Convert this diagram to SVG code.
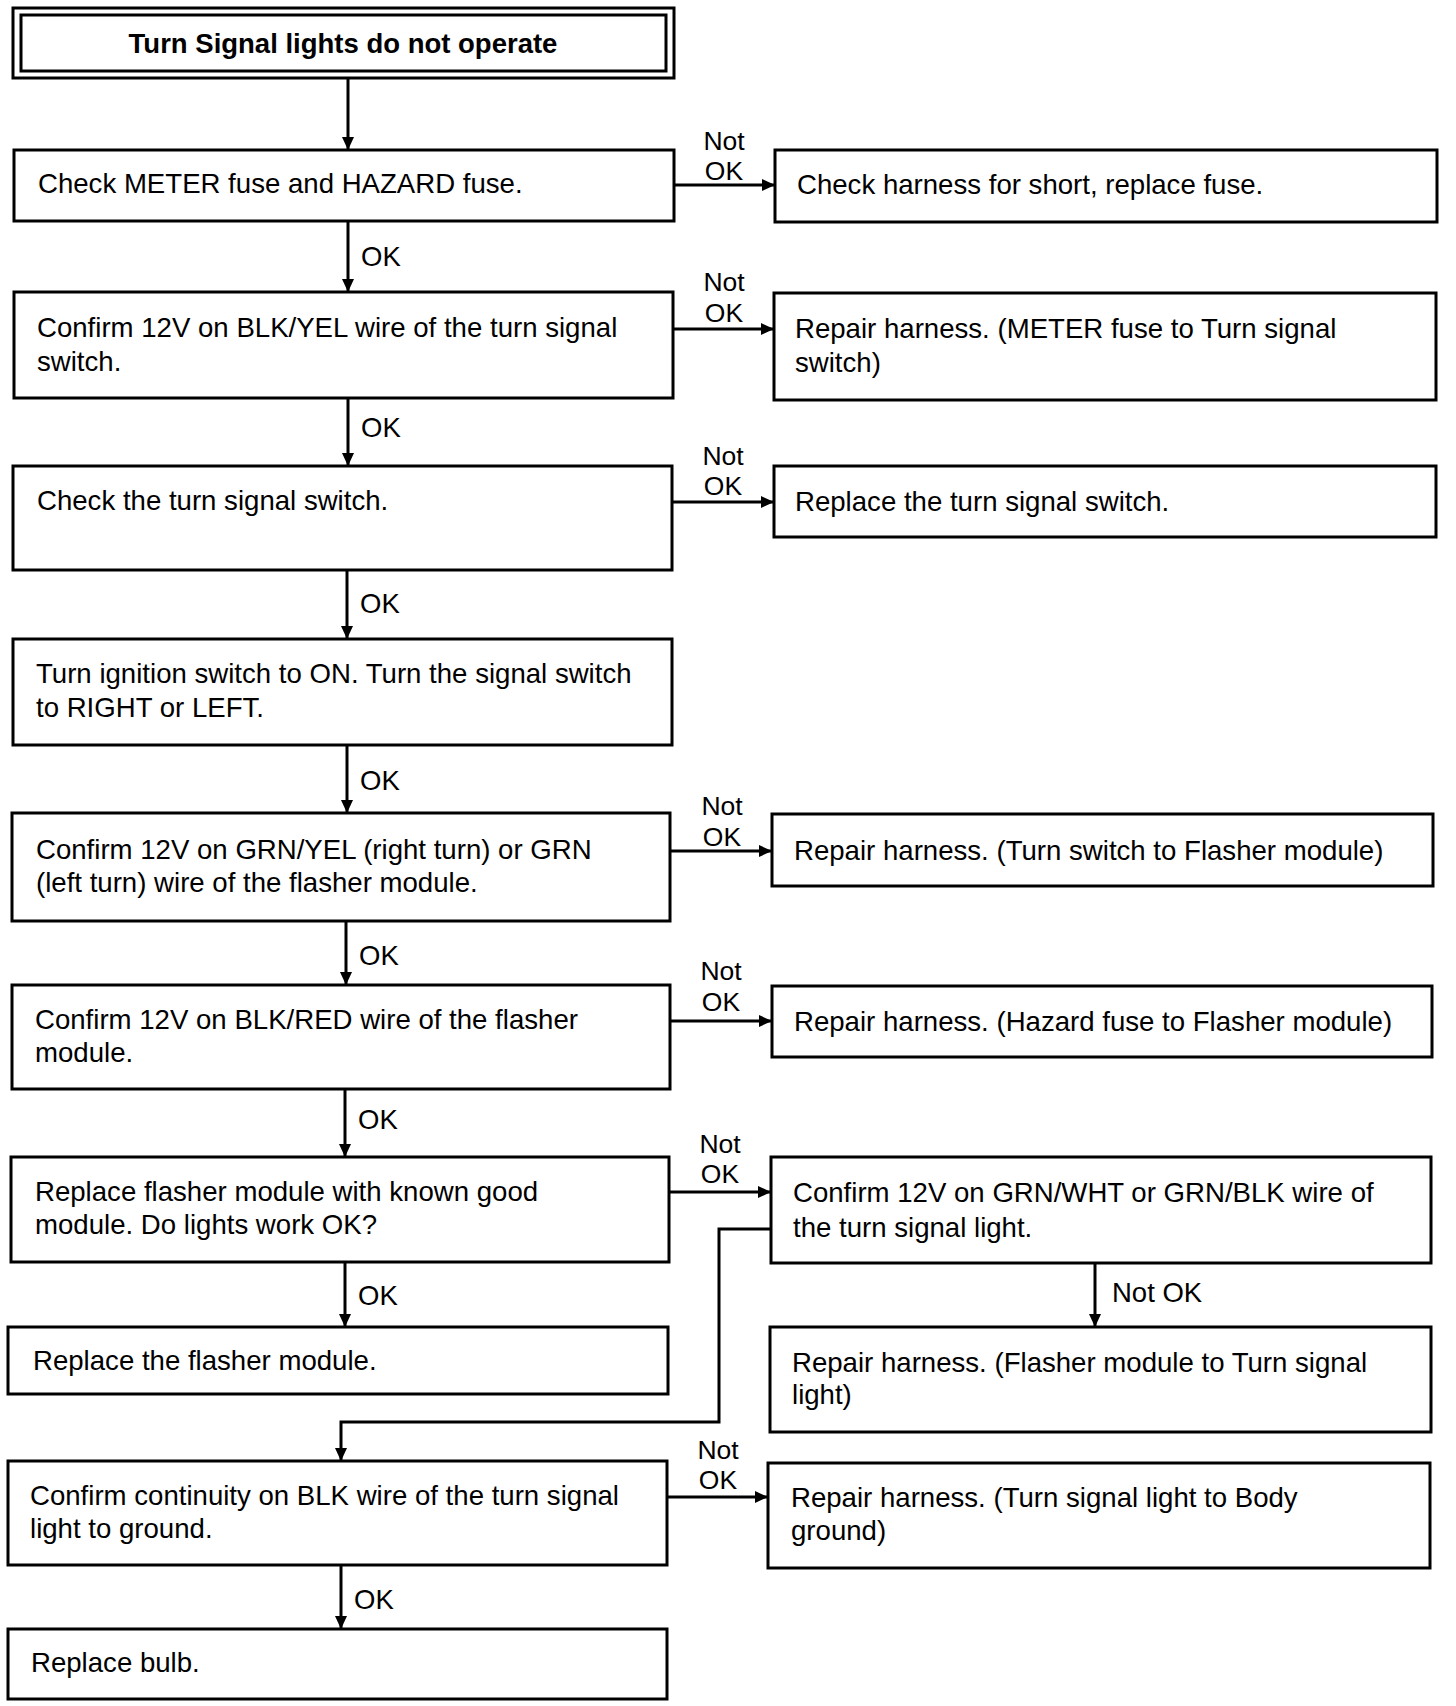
<svg xmlns="http://www.w3.org/2000/svg" width="1456" height="1706" viewBox="0 0 1456 1706">
<style>
.box{fill:#fff;stroke:#000;stroke-width:3}
.t{font-family:"Liberation Sans",Arial,sans-serif;font-size:27.6px;fill:#000}
.tb{font-family:"Liberation Sans",Arial,sans-serif;font-size:27.5px;font-weight:bold;fill:#000}
.c{fill:none;stroke:#000;stroke-width:3}
.lbl{font-family:"Liberation Sans",Arial,sans-serif;font-size:27.5px;fill:#000}
.nl{font-family:"Liberation Sans",Arial,sans-serif;font-size:26.5px;fill:#000;text-anchor:middle}
</style>
<defs>
<marker id="ah" markerUnits="userSpaceOnUse" markerWidth="13" markerHeight="12" refX="13" refY="6" orient="auto">
<path d="M0,0 L13,6 L0,12 z" fill="#000"/>
</marker>
</defs>
<rect width="1456" height="1706" fill="#fff"/>

<g id="connectors">
<line class="c" x1="348" y1="78" x2="348" y2="150" marker-end="url(#ah)"/>
<line class="c" x1="674" y1="185" x2="775" y2="185" marker-end="url(#ah)"/>
<line class="c" x1="348" y1="221" x2="348" y2="292" marker-end="url(#ah)"/>
<line class="c" x1="673" y1="329" x2="774" y2="329" marker-end="url(#ah)"/>
<line class="c" x1="348" y1="398" x2="348" y2="466" marker-end="url(#ah)"/>
<line class="c" x1="672" y1="502" x2="774" y2="502" marker-end="url(#ah)"/>
<line class="c" x1="347" y1="570" x2="347" y2="639" marker-end="url(#ah)"/>
<line class="c" x1="347" y1="745" x2="347" y2="813" marker-end="url(#ah)"/>
<line class="c" x1="670" y1="851" x2="772" y2="851" marker-end="url(#ah)"/>
<line class="c" x1="346" y1="921" x2="346" y2="985" marker-end="url(#ah)"/>
<line class="c" x1="670" y1="1021" x2="772" y2="1021" marker-end="url(#ah)"/>
<line class="c" x1="345" y1="1089" x2="345" y2="1157" marker-end="url(#ah)"/>
<line class="c" x1="669" y1="1192" x2="771" y2="1192" marker-end="url(#ah)"/>
<line class="c" x1="345" y1="1262" x2="345" y2="1327" marker-end="url(#ah)"/>
<line class="c" x1="1095" y1="1263" x2="1095" y2="1327" marker-end="url(#ah)"/>
<polyline class="c" points="771,1229 719,1229 719,1422 341,1422 341,1461" marker-end="url(#ah)"/>
<line class="c" x1="667" y1="1497" x2="768" y2="1497" marker-end="url(#ah)"/>
<line class="c" x1="341" y1="1565" x2="341" y2="1629" marker-end="url(#ah)"/>
<text class="lbl" x="361" y="266">OK</text>
<text class="lbl" x="361" y="437">OK</text>
<text class="lbl" x="360" y="613">OK</text>
<text class="lbl" x="360" y="790">OK</text>
<text class="lbl" x="359" y="965">OK</text>
<text class="lbl" x="358" y="1129">OK</text>
<text class="lbl" x="358" y="1305">OK</text>
<text class="lbl" x="354" y="1609">OK</text>
<text class="lbl" x="1112" y="1302">Not OK</text>
<text class="nl" x="724" y="150">Not</text>
<text class="nl" x="724" y="180">OK</text>
<text class="nl" x="724" y="291">Not</text>
<text class="nl" x="724" y="322">OK</text>
<text class="nl" x="723" y="465">Not</text>
<text class="nl" x="723" y="495">OK</text>
<text class="nl" x="722" y="815">Not</text>
<text class="nl" x="722" y="846">OK</text>
<text class="nl" x="721" y="980">Not</text>
<text class="nl" x="721" y="1011">OK</text>
<text class="nl" x="720" y="1153">Not</text>
<text class="nl" x="720" y="1183">OK</text>
<text class="nl" x="718" y="1459">Not</text>
<text class="nl" x="718" y="1489">OK</text>
</g>

<g id="n0">
<rect class="box" x="13" y="8" width="661" height="70"/>
<rect class="box" x="21" y="15" width="645" height="56"/>
<text class="tb" text-anchor="middle" x="343" y="53">Turn Signal lights do not operate</text>
</g>
<g id="n1">
<rect class="box" x="14" y="150" width="660" height="71"/>
<text class="t" x="38" y="193">Check METER fuse and HAZARD fuse.</text>
</g>
<g id="n1r">
<rect class="box" x="775" y="150" width="662" height="72"/>
<text class="t" x="797" y="194">Check harness for short, replace fuse.</text>
</g>
<g id="n2">
<rect class="box" x="14" y="292" width="659" height="106"/>
<text class="t" x="37" y="337">Confirm 12V on BLK/YEL wire of the turn signal</text>
<text class="t" x="37" y="371">switch.</text>
</g>
<g id="n2r">
<rect class="box" x="774" y="293" width="662" height="107"/>
<text class="t" x="795" y="338">Repair harness. (METER fuse to Turn signal</text>
<text class="t" x="795" y="372">switch)</text>
</g>
<g id="n3">
<rect class="box" x="13" y="466" width="659" height="104"/>
<text class="t" x="37" y="510">Check the turn signal switch.</text>
</g>
<g id="n3r">
<rect class="box" x="774" y="466" width="662" height="71"/>
<text class="t" x="795" y="511">Replace the turn signal switch.</text>
</g>
<g id="n4">
<rect class="box" x="13" y="639" width="659" height="106"/>
<text class="t" x="36" y="683">Turn ignition switch to ON. Turn the signal switch</text>
<text class="t" x="36" y="717">to RIGHT or LEFT.</text>
</g>
<g id="n5">
<rect class="box" x="12" y="813" width="658" height="108"/>
<text class="t" x="36" y="859">Confirm 12V on GRN/YEL (right turn) or GRN</text>
<text class="t" x="36" y="892">(left turn) wire of the flasher module.</text>
</g>
<g id="n5r">
<rect class="box" x="772" y="814" width="661" height="72"/>
<text class="t" x="794" y="860">Repair harness. (Turn switch to Flasher module)</text>
</g>
<g id="n6">
<rect class="box" x="12" y="985" width="658" height="104"/>
<text class="t" x="35" y="1029">Confirm 12V on BLK/RED wire of the flasher</text>
<text class="t" x="35" y="1062">module.</text>
</g>
<g id="n6r">
<rect class="box" x="772" y="986" width="660" height="71"/>
<text class="t" x="794" y="1031">Repair harness. (Hazard fuse to Flasher module)</text>
</g>
<g id="n7">
<rect class="box" x="11" y="1157" width="658" height="105"/>
<text class="t" x="35" y="1201">Replace flasher module with known good</text>
<text class="t" x="35" y="1234">module. Do lights work OK?</text>
</g>
<g id="n7r">
<rect class="box" x="771" y="1157" width="660" height="106"/>
<text class="t" x="793" y="1202">Confirm 12V on GRN/WHT or GRN/BLK wire of</text>
<text class="t" x="793" y="1237">the turn signal light.</text>
</g>
<g id="n8">
<rect class="box" x="8" y="1327" width="660" height="67"/>
<text class="t" x="33" y="1370">Replace the flasher module.</text>
</g>
<g id="n7r2">
<rect class="box" x="770" y="1327" width="661" height="105"/>
<text class="t" x="792" y="1372">Repair harness. (Flasher module to Turn signal</text>
<text class="t" x="792" y="1404">light)</text>
</g>
<g id="n9">
<rect class="box" x="8" y="1461" width="659" height="104"/>
<text class="t" x="30" y="1505">Confirm continuity on BLK wire of the turn signal</text>
<text class="t" x="30" y="1538">light to ground.</text>
</g>
<g id="n9r">
<rect class="box" x="768" y="1463" width="662" height="105"/>
<text class="t" x="791" y="1507">Repair harness. (Turn signal light to Body</text>
<text class="t" x="791" y="1540">ground)</text>
</g>
<g id="n10">
<rect class="box" x="8" y="1629" width="659" height="70"/>
<text class="t" x="31" y="1672">Replace bulb.</text>
</g>
</svg>
